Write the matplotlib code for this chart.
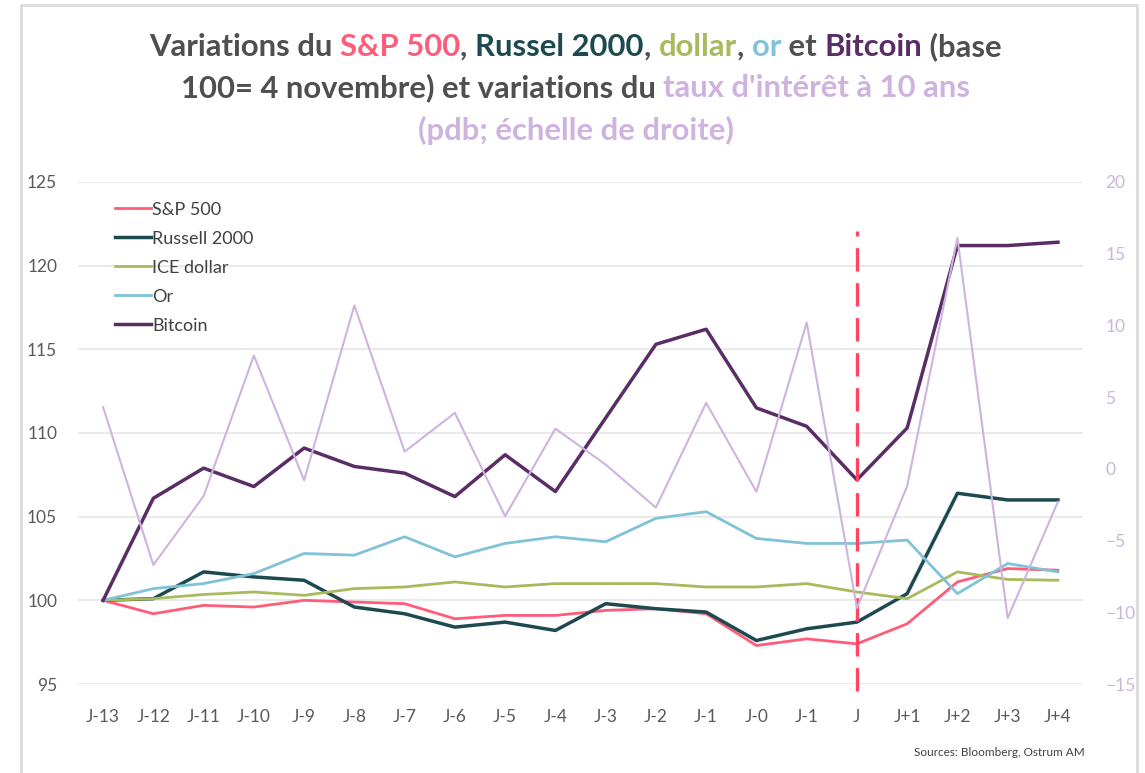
import matplotlib
matplotlib.use("Agg")
import matplotlib.pyplot as plt
from matplotlib.patches import Rectangle

plt.rcParams['font.family'] = ['Lato', 'DejaVu Sans']

# ---- data ----
days = ['J-13', 'J-12', 'J-11', 'J-10', 'J-9', 'J-8', 'J-7', 'J-6', 'J-5', 'J-4',
        'J-3', 'J-2', 'J-1', 'J-0', 'J-1', 'J', 'J+1', 'J+2', 'J+3', 'J+4']
sp500 = [100, 99.2, 99.7, 99.6, 100.0, 99.9, 99.8, 98.9, 99.1, 99.1,
         99.4, 99.5, 99.2, 97.3, 97.7, 97.4, 98.6, 101.1, 101.9, 101.8]
russell = [100, 100.1, 101.7, 101.4, 101.2, 99.6, 99.2, 98.4, 98.7, 98.2,
           99.8, 99.5, 99.3, 97.6, 98.3, 98.7, 100.4, 106.4, 106.0, 106.0]
dollar = [100, 100.1, 100.35, 100.5, 100.3, 100.7, 100.8, 101.1, 100.8, 101.0,
          101.0, 101.0, 100.8, 100.8, 101.0, 100.5, 100.1, 101.7, 101.25, 101.2]
gold = [100, 100.7, 101.0, 101.6, 102.8, 102.7, 103.8, 102.6, 103.4, 103.8,
        103.5, 104.9, 105.3, 103.7, 103.4, 103.4, 103.6, 100.4, 102.2, 101.7]
bitcoin = [100, 106.1, 107.9, 106.8, 109.1, 108.0, 107.6, 106.2, 108.7, 106.5,
           110.9, 115.3, 116.2, 111.5, 110.4, 107.2, 110.3, 121.2, 121.2, 121.4]
taux10 = [4.3, -6.7, -1.9, 7.9, -0.8, 11.4, 1.2, 3.9, -3.3, 2.8,
          0.3, -2.7, 4.6, -1.6, 10.2, -9.7, -1.2, 16.1, -10.4, -2.3]
jour_j = 15  # index of "J" (election day)

c_sp = '#ff5c7a'
c_rus = '#1d4a50'
c_dol = '#a8bb5c'
c_or = '#80c3d8'
c_btc = '#5a2d67'
c_taux = '#cfb3df'
c_txt = '#4f4f4f'

fig = plt.figure(figsize=(11.45, 7.73), dpi=100)
ax = fig.add_axes([0.0681, 0.1151, 0.8778, 0.6495])
ax2 = ax.twinx()

x = list(range(len(days)))
ax.plot(x, sp500, color=c_sp, lw=2.0, label='S&P 500')
ax.plot(x, russell, color=c_rus, lw=2.5, label='Russell 2000')
ax.plot(x, dollar, color=c_dol, lw=2.0, label='ICE dollar')
ax.plot(x, gold, color=c_or, lw=2.0, label='Or')
ax.plot(x, bitcoin, color=c_btc, lw=2.5, label='Bitcoin')
ax2.plot(x, taux10, color=c_taux, lw=1.5)

ax.axvline(jour_j, ymin=-0.013, ymax=0.903, color='#ff4563', lw=2.4,
           dashes=(7, 3.5), clip_on=False, zorder=5)

ax.set_xlim(-0.5, len(days) - 0.5)
ax.set_ylim(95, 125)
ax.set_yticks(range(95, 126, 5))
ax2.set_ylim(-15, 20)
ax2.set_yticks(range(-15, 21, 5))
ax.set_xticks(x)
ax.set_xticklabels(days)
ax.grid(axis='y', color='#e6e6e6', lw=1.2)
ax.set_axisbelow(True)

for a in (ax, ax2):
    for s in a.spines.values():
        s.set_visible(False)
ax.tick_params(axis='y', length=0, pad=15, labelsize=12.5, labelcolor='#595959')
ax.tick_params(axis='x', length=0, pad=18, labelsize=12.5, labelcolor='#595959')
ax2.tick_params(axis='y', length=0, pad=16, labelsize=12.5, labelcolor='#cbb6da')

leg = ax.legend(loc='upper left', bbox_to_anchor=(0.03, 0.975), frameon=False,
                fontsize=13, handlelength=2.0, handletextpad=0.05,
                labelspacing=0.72, borderaxespad=0)
for t in leg.get_texts():
    t.set_color('#404040')

# ---- multi-coloured title ----
title_lines = [
    [('Variations du ', c_txt), ('S&P 500', c_sp), (', ', c_txt), ('Russel 2000', c_rus),
     (', ', c_txt), ('dollar', c_dol), (', ', c_txt), ('or', c_or), (' et ', c_txt),
     ('Bitcoin', c_btc), (' (base', c_txt)],
    [('100= 4 novembre) et variations du ', c_txt), ("taux d'intérêt à 10 ans", c_taux)],
    [('(pdb; échelle de droite)', c_taux)],
]
title_y = [1 - 47 / 773, 1 - 88 / 773, 1 - 130 / 773]
renderer = fig.canvas.get_renderer()


def text_width(s, size):
    # pad with letters so leading / trailing spaces are counted
    t1 = fig.text(0, 0, 'x' + s + 'x', fontsize=size, fontweight='bold')
    t2 = fig.text(0, 0, 'xx', fontsize=size, fontweight='bold')
    w = t1.get_window_extent(renderer).width - t2.get_window_extent(renderer).width
    t1.remove()
    t2.remove()
    return w


title_size = 22.3
for parts, yy in zip(title_lines, title_y):
    widths = [text_width(s, title_size) for s, c in parts]
    xpos = (fig.bbox.width - sum(widths)) / 2 + 3
    for (s, c), w in zip(parts, widths):
        fig.text(xpos / fig.bbox.width, yy, s, color=c, fontsize=title_size,
                 fontweight='bold', va='center', ha='left')
        xpos += w

fig.text(1085 / 1145, 1 - 752 / 773, 'Sources: Bloomberg, Ostrum AM', fontsize=8.5,
         color='#404040', ha='right', va='center')

fig.patches.append(Rectangle((21 / 1145, -0.02), (1137 - 21) / 1145, 1.02 - 5 / 773,
                             transform=fig.transFigure, fill=False,
                             edgecolor='#dcdcdc', lw=2))

fig.savefig('out.png', dpi=100)
